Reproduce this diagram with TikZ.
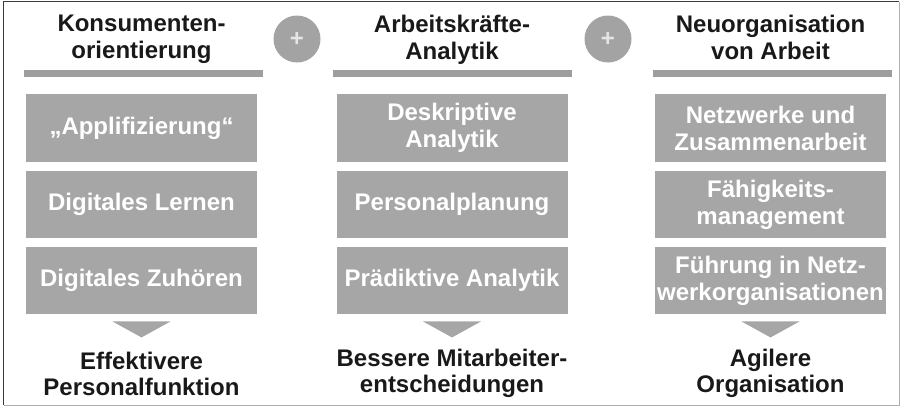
\documentclass[tikz,border=0pt]{standalone}
\usepackage{fontspec}
\setmainfont{Liberation Sans}
\usetikzlibrary{calc}
\definecolor{boxgray}{RGB}{166,166,166}
\definecolor{bargray}{RGB}{158,158,158}
\definecolor{circgray}{RGB}{163,163,163}
\definecolor{txtdark}{RGB}{25,25,25}
\definecolor{plusc}{RGB}{228,228,228}
\definecolor{framedark}{RGB}{60,60,60}
\definecolor{framelight}{RGB}{175,175,175}
\begin{document}
\begin{tikzpicture}[x=1pt,y=-1pt,
  box/.style={fill=boxgray,text=white,font=\bfseries\fontsize{24}{27}\selectfont,minimum width=231pt,minimum height=67.5pt,inner sep=0pt,align=center},
  head/.style={text=txtdark,font=\bfseries\fontsize{24}{27}\selectfont,align=center,inner sep=0pt},
  result/.style={text=txtdark,font=\bfseries\fontsize{24}{26}\selectfont,align=center,inner sep=0pt},
  bar/.style={fill=bargray,minimum width=239pt,minimum height=7pt,inner sep=0pt},
  plusdisc/.style={circle,fill=circgray,minimum size=47pt,inner sep=0pt,text=plusc,font=\bfseries\fontsize{24}{24}\selectfont},
  arrowtri/.style={fill=boxgray}
]
\useasboundingbox (0,0) rectangle (905,407);
% frame
\draw[framelight,line width=1pt] (899,1.5) -- (899,405) -- (3.5,405);
\draw[framedark,line width=1.6pt] (3.5,405) -- (3.5,1.5) -- (899,1.5);

% column 1
\node[head] (h1) at (141.5,39.5) {Konsumenten-\\orientierung};
\node[bar] (b1) at (143,73.5) {};
\node[box] (a1) at (141.5,128) {„Applifizierung“};
\node[box] (a2) at (141.5,204.5) {Digitales Lernen};
\node[box] (a3) at (141.5,280.5) {Digitales Zuhören};
\fill[arrowtri] ($(a3.south)+(-29,7)$) -- ($(a3.south)+(29,7)$) -- ($(a3.south)+(0,23)$) -- cycle;
\node[result] (r1) at (141.5,373.5) {Effektivere\\Personalfunktion};

% column 2
\node[head] (h2) at (452,39.5) {Arbeitskräfte-\\Analytik};
\node[bar] (b2) at (452,73.5) {};
\node[box] (m1) at (452,128) {Deskriptive\\Analytik};
\node[box] (m2) at (452,204.5) {Personalplanung};
\node[box] (m3) at (452,280.5) {Prädiktive Analytik};
\fill[arrowtri] ($(m3.south)+(-29,7)$) -- ($(m3.south)+(29,7)$) -- ($(m3.south)+(0,23)$) -- cycle;
\node[result] (r2) at (452,373.5) {Bessere Mitarbeiter-\\entscheidungen};

% column 3
\node[head] (h3) at (770.5,37) {Neuorganisation\\von Arbeit};
\node[bar] (b3) at (772.5,73.5) {};
\node[box] (n1) at (770.5,128) {Netzwerke und\\Zusammenarbeit};
\node[box] (n2) at (770.5,204.5) {Fähigkeits-\\management};
\node[box] (n3) at (770.5,280.5) {Führung in Netz-\\werkorganisationen};
\fill[arrowtri] ($(n3.south)+(-29,7)$) -- ($(n3.south)+(29,7)$) -- ($(n3.south)+(0,23)$) -- cycle;
\node[result] (r3) at (770.5,373.5) {Agilere\\Organisation};

% plus discs
\node[plusdisc] (p1) at (297,39) {+};
\node[plusdisc] (p2) at (608,39) {+};
\end{tikzpicture}
\end{document}
